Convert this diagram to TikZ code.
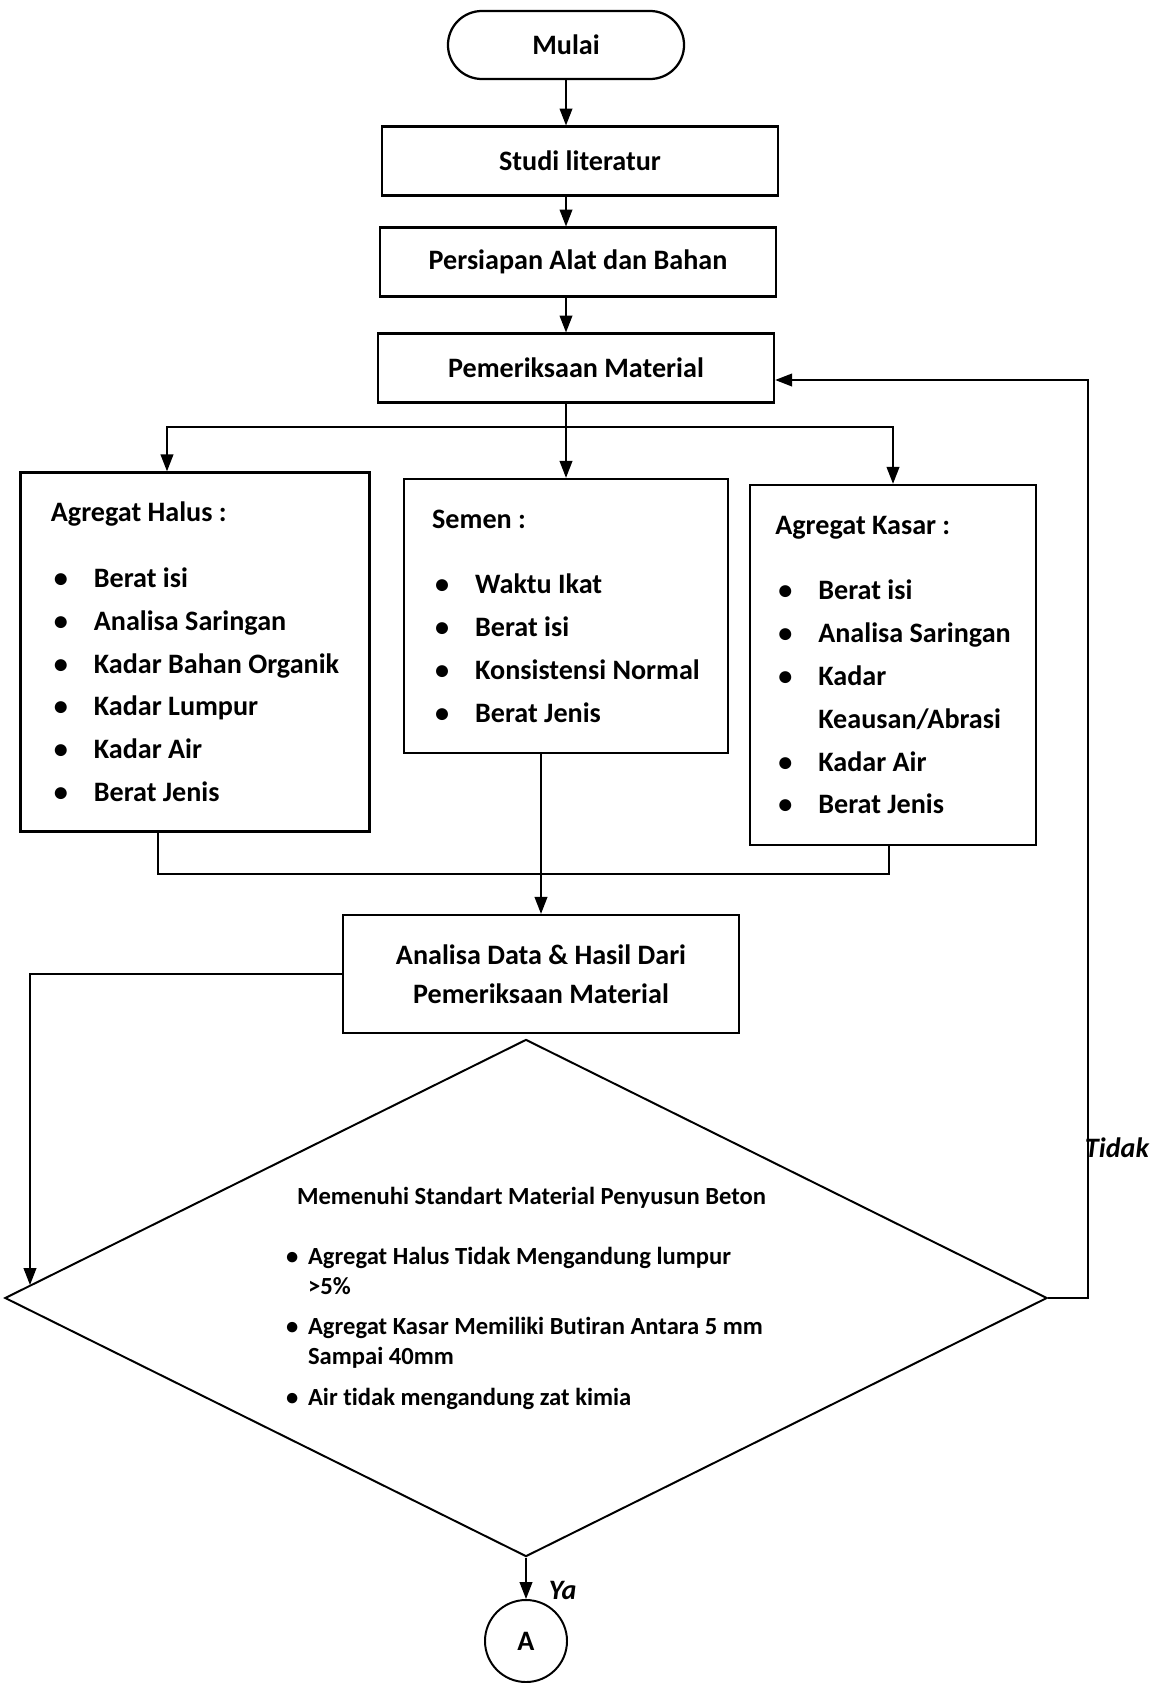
\documentclass[tikz,border=0pt]{standalone}
\usepackage{fontspec}
\setmainfont{Carlito}[Ligatures=NoCommon]
\usetikzlibrary{arrows.meta, positioning, shapes.geometric, calc}

\newcommand\butir[1]{\hspace*{0.075cm}\makebox[1.0cm][l]{\textbullet}#1}
\newcommand\syarat[1]{\makebox[0.55cm][l]{\textbullet}#1}

\begin{document}
\begin{tikzpicture}[x=0.025cm, y=-0.025cm,
      terminal/.style={rectangle, draw, line width=1.6pt, rounded corners=0.85cm, minimum width=5.9cm, minimum height=1.7cm, font=\fontsize{20}{24}\selectfont\bfseries},
      proses/.style={rectangle, draw, line width=1.6pt, minimum width=9.9cm, minimum height=1.72cm, font=\fontsize{20}{24}\selectfont\bfseries},
      daftar/.style={rectangle, draw, line width=1.6pt, align=left, font=\fontsize{20}{30.5}\selectfont\bfseries},
      keputusan/.style={diamond, draw, line width=1.4pt, aspect=2, inner sep=0pt, minimum width=26.05cm, minimum height=12.925cm, align=left, font=\fontsize{17.5}{21}\selectfont\bfseries},
      sambung/.style={circle, draw, line width=1.4pt, minimum size=2.05cm, inner sep=0pt, font=\fontsize{20}{24}\selectfont\bfseries},
      panah/.style={-{Triangle[length=12pt,width=9pt]}, line width=1.2pt},
      garis/.style={line width=1.2pt},
      ket/.style={font=\fontsize{20}{24}\selectfont\bfseries\itshape}]

      \useasboundingbox (0,0) rectangle (1160,1683);

      \node[terminal] (mulai) at (566,45) {Mulai};
      \node[proses] (studi) at (580,161) {Studi literatur};
      \node[proses] (persiapan) at (578,262) {Persiapan Alat dan Bahan};
      \node[proses] (periksa) at (576,368) {Pemeriksaan Material};

      % Tiga kelompok pemeriksaan
      \node[daftar, minimum width=8.725cm, minimum height=8.975cm] (halus) at (195,652) {Agregat Halus :\\[16pt]
        \butir{Berat isi}\\ \butir{Analisa Saringan}\\ \butir{Kadar Bahan Organik}\\
        \butir{Kadar Lumpur}\\ \butir{Kadar Air}\\ \butir{Berat Jenis}};
      \node[daftar, minimum width=8.1cm, minimum height=6.85cm] (semen) at (566,616) {Semen :\\[16pt]
        \butir{Waktu Ikat}\\ \butir{Berat isi}\\ \butir{Konsistensi Normal}\\ \butir{Berat Jenis}};
      \node[daftar, minimum width=7.15cm, minimum height=9.0cm] (kasar) at (893,665) {Agregat Kasar :\\[16pt]
        \butir{Berat isi}\\ \butir{Analisa Saringan}\\ \butir{Kadar}\\ \hspace*{1.075cm}Keausan/Abrasi\\
        \butir{Kadar Air}\\ \butir{Berat Jenis}};

      \node[proses, align=center, minimum height=2.95cm, font=\fontsize{20}{28}\selectfont\bfseries] (analisa) at (541,974) {Analisa Data \& Hasil Dari\\Pemeriksaan Material};

      \node[keputusan] (cek) at (526,1298) {\hspace*{0.275cm}Memenuhi Standart Material Penyusun Beton\\[22pt]
        \syarat{Agregat Halus Tidak Mengandung lumpur}\\ \hspace*{0.55cm}>5\%\\[8pt]
        \syarat{Agregat Kasar Memiliki Butiran Antara 5 mm}\\ \hspace*{0.55cm}Sampai 40mm\\[8pt]
        \syarat{Air tidak mengandung zat kimia}};

      \node[sambung] (titikA) at (526,1641) {A};

      % Alur utama
      \draw[panah] (mulai.south) -- (studi.north -| mulai);
      \draw[panah] (studi.south -| mulai) -- (persiapan.north -| mulai);
      \draw[panah] (persiapan.south -| mulai) -- (periksa.north -| mulai);

      \coordinate (cabang) at (566,427);
      \draw[garis] (periksa.south -| mulai) -- (cabang);
      \draw[panah] (cabang) -| ([xshift=-0.7cm]halus.north);
      \draw[panah] (cabang) -- (semen.north);
      \draw[panah] (cabang) -| (kasar.north);

      \coordinate (gabung) at (541,874);
      \draw[garis] ([xshift=-0.93cm]halus.south) |- (gabung) -| ([xshift=-0.1cm]kasar.south);
      \draw[panah] (semen.south -| analisa) -- (analisa.north);

      \draw[panah] (analisa.west) -| ($(cek.west)!0.05!(cek.north)$);

      % Tidak / Ya
      \coordinate (balik) at (1088,1298);
      \draw[panah] (cek.east) -- (balik) |- ([yshift=-0.3cm]periksa.east);
      \node[ket, anchor=west] (tidak) at (1080,1148) {Tidak};

      \draw[panah] (cek.south) -- (titikA.north);
      \node[ket, anchor=west] (ya) at (544,1590) {Ya};
    \end{tikzpicture}
\end{document}
